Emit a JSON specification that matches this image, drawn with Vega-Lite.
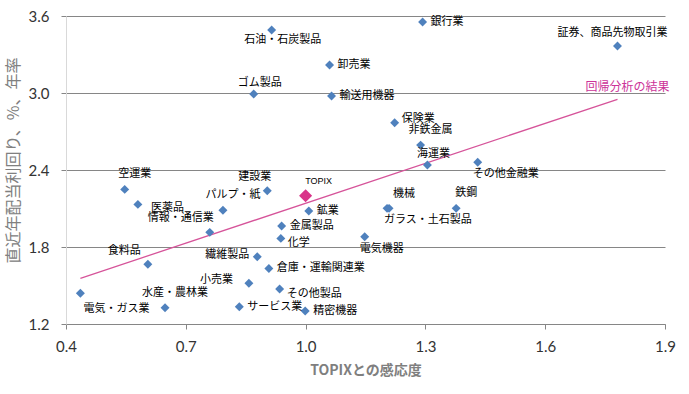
{
  "$schema": "https://vega.github.io/schema/vega-lite/v6.json",
  "width": 599,
  "height": 308,
  "autosize": {"type": "none"},
  "padding": {"left": 66, "top": 16, "right": 24, "bottom": 70},
  "background": "white",
  "config": {"view": {"stroke": null}, "text": {"font": "Noto Sans CJK JP", "fontSize": 11, "color": "#000"}},
  "datasets": {
    "sectors": [
      {"name": "銀行業", "x": 1.293, "y": 3.553},
      {"name": "証券、商品先物取引業", "x": 1.781, "y": 3.366},
      {"name": "石油・石炭製品", "x": 0.915, "y": 3.491},
      {"name": "卸売業", "x": 1.06, "y": 3.218},
      {"name": "ゴム製品", "x": 0.87, "y": 2.992},
      {"name": "輸送用機器", "x": 1.065, "y": 2.976},
      {"name": "保険業", "x": 1.223, "y": 2.768},
      {"name": "非鉄金属", "x": 1.288, "y": 2.594},
      {"name": "海運業", "x": 1.305, "y": 2.439},
      {"name": "その他金融業", "x": 1.431, "y": 2.46},
      {"name": "機械", "x": 1.204, "y": 2.101},
      {"name": "ガラス・土石製品", "x": 1.209, "y": 2.101},
      {"name": "鉄鋼", "x": 1.377, "y": 2.101},
      {"name": "電気機器", "x": 1.148, "y": 1.88},
      {"name": "鉱業", "x": 1.008, "y": 2.08},
      {"name": "金属製品", "x": 0.94, "y": 1.963},
      {"name": "化学", "x": 0.938, "y": 1.867},
      {"name": "建設業", "x": 0.904, "y": 2.238},
      {"name": "パルプ・紙", "x": 0.793, "y": 2.086},
      {"name": "空運業", "x": 0.547, "y": 2.249},
      {"name": "医薬品", "x": 0.58, "y": 2.132},
      {"name": "情報・通信業", "x": 0.76, "y": 1.914},
      {"name": "食料品", "x": 0.605, "y": 1.665},
      {"name": "電気・ガス業", "x": 0.436, "y": 1.439},
      {"name": "水産・農林業", "x": 0.648, "y": 1.327},
      {"name": "繊維製品", "x": 0.879, "y": 1.724},
      {"name": "倉庫・運輸関連業", "x": 0.908, "y": 1.633},
      {"name": "小売業", "x": 0.858, "y": 1.517},
      {"name": "その他製品", "x": 0.935, "y": 1.472},
      {"name": "サービス業", "x": 0.834, "y": 1.334},
      {"name": "精密機器", "x": 0.999, "y": 1.301}
    ],
    "topix": [{"name": "TOPIX", "x": 1.0, "y": 2.2}],
    "reg": [{"x": 0.436, "y": 1.556}, {"x": 1.781, "y": 2.951}],
    "regLabel": [{"x": 1.781, "y": 2.951, "label": "回帰分析の結果"}]
  },
  "layer": [
    {
      "data": {"name": "reg"},
      "mark": {"type": "line", "color": "#D6549A", "strokeWidth": 1.3},
      "encoding": {
        "x": {"field": "x", "type": "quantitative", "scale": {"domain": [0.4, 1.9], "nice": false, "zero": false},
          "axis": {"values": [0.4, 0.7, 1.0, 1.3, 1.6, 1.9], "format": ".1f", "grid": false, "domainColor": "#868686", "tickColor": "#868686", "tickSize": 5, "labelFont": "Lato", "labelFontSize": 15, "labelColor": "#333", "labelPadding": 10, "labelFlush": false,
            "title": "TOPIXとの感応度", "titleFont": "Noto Sans CJK JP", "titleFontSize": 14, "titleFontWeight": "bold", "titleColor": "#7F7F7F", "titleY": 46, "titleBaseline": "middle"}},
        "y": {"field": "y", "type": "quantitative", "scale": {"domain": [1.2, 3.6], "nice": false, "zero": false},
          "axis": {"values": [1.2, 1.8, 2.4, 3.0, 3.6], "format": ".1f", "grid": true, "gridColor": "#868686", "domainColor": "#D9D9D9", "tickColor": "#868686", "tickSize": 5, "labelFont": "Lato", "labelFontSize": 15, "labelColor": "#333", "labelPadding": 12,
            "title": "直近年配当利回り、%、年率", "titleFont": "Noto Sans CJK JP", "titleFontSize": 16, "titleFontWeight": "normal", "titleColor": "#808080", "titleX": -53, "titleY": 144, "titleAngle": -90, "titleAlign": "center", "titleBaseline": "middle"}}
      }
    },
    {
      "data": {"name": "regLabel"},
      "mark": {"type": "text", "color": "#CC3399", "fontSize": 12, "align": "center", "dx": 10, "dy": -12},
      "encoding": {"x": {"field": "x", "type": "quantitative"}, "y": {"field": "y", "type": "quantitative"}, "text": {"field": "label"}}
    },
    {
      "data": {"name": "sectors"},
      "mark": {"type": "point", "shape": "diamond", "filled": true, "size": 80, "color": "#4F81BD", "opacity": 1},
      "encoding": {"x": {"field": "x", "type": "quantitative"}, "y": {"field": "y", "type": "quantitative"}}
    },
    {
      "data": {"name": "topix"},
      "mark": {"type": "point", "shape": "diamond", "filled": true, "size": 170, "color": "#D9348A", "opacity": 1},
      "encoding": {"x": {"field": "x", "type": "quantitative"}, "y": {"field": "y", "type": "quantitative"}}
    },
    {
      "data": {"name": "topix"},
      "mark": {"type": "text", "fontSize": 9, "font": "Liberation Sans", "align": "center", "dx": 13, "dy": -15},
      "encoding": {"x": {"field": "x", "type": "quantitative"}, "y": {"field": "y", "type": "quantitative"}, "text": {"field": "name"}}
    },
    {
      "data": {"name": "sectors"},
      "transform": [{"filter": {"field": "name", "oneOf": ["銀行業", "卸売業", "輸送用機器", "鉱業", "金属製品", "倉庫・運輸関連業", "サービス業", "精密機器"]}}],
      "mark": {"type": "text", "align": "left", "baseline": "middle", "dx": 8, "dy": 0},
      "encoding": {"x": {"field": "x", "type": "quantitative"}, "y": {"field": "y", "type": "quantitative"}, "text": {"field": "name"}}
    },
    {
      "data": {"name": "sectors"},
      "transform": [{"filter": {"field": "name", "oneOf": ["保険業"]}}],
      "mark": {"type": "text", "align": "left", "baseline": "middle", "dx": 7, "dy": -4},
      "encoding": {"x": {"field": "x", "type": "quantitative"}, "y": {"field": "y", "type": "quantitative"}, "text": {"field": "name"}}
    },
    {
      "data": {"name": "sectors"},
      "transform": [{"filter": {"field": "name", "oneOf": ["その他製品", "化学"]}}],
      "mark": {"type": "text", "align": "left", "baseline": "middle", "dx": 7, "dy": 5},
      "encoding": {"x": {"field": "x", "type": "quantitative"}, "y": {"field": "y", "type": "quantitative"}, "text": {"field": "name"}}
    },
    {
      "data": {"name": "sectors"},
      "transform": [{"filter": {"field": "name", "oneOf": ["医薬品"]}}],
      "mark": {"type": "text", "align": "left", "baseline": "middle", "dx": 13, "dy": 4},
      "encoding": {"x": {"field": "x", "type": "quantitative"}, "y": {"field": "y", "type": "quantitative"}, "text": {"field": "name"}}
    },
    {
      "data": {"name": "sectors"},
      "transform": [{"filter": {"field": "name", "oneOf": ["非鉄金属", "鉄鋼", "パルプ・紙", "水産・農林業", "空運業"]}}],
      "mark": {"type": "text", "align": "center", "baseline": "middle", "dx": 10, "dy": -15},
      "encoding": {"x": {"field": "x", "type": "quantitative"}, "y": {"field": "y", "type": "quantitative"}, "text": {"field": "name"}}
    },
    {
      "data": {"name": "sectors"},
      "transform": [{"filter": {"field": "name", "oneOf": ["機械"]}}],
      "mark": {"type": "text", "align": "center", "baseline": "middle", "dx": 17, "dy": -14},
      "encoding": {"x": {"field": "x", "type": "quantitative"}, "y": {"field": "y", "type": "quantitative"}, "text": {"field": "name"}}
    },
    {
      "data": {"name": "sectors"},
      "transform": [{"filter": {"field": "name", "oneOf": ["ゴム製品", "海運業"]}}],
      "mark": {"type": "text", "align": "center", "baseline": "middle", "dx": 6, "dy": -11},
      "encoding": {"x": {"field": "x", "type": "quantitative"}, "y": {"field": "y", "type": "quantitative"}, "text": {"field": "name"}}
    },
    {
      "data": {"name": "sectors"},
      "transform": [{"filter": {"field": "name", "oneOf": ["証券、商品先物取引業"]}}],
      "mark": {"type": "text", "align": "center", "baseline": "middle", "dx": -5, "dy": -13},
      "encoding": {"x": {"field": "x", "type": "quantitative"}, "y": {"field": "y", "type": "quantitative"}, "text": {"field": "name"}}
    },
    {
      "data": {"name": "sectors"},
      "transform": [{"filter": {"field": "name", "oneOf": ["石油・石炭製品"]}}],
      "mark": {"type": "text", "align": "center", "baseline": "middle", "dx": 11, "dy": 10},
      "encoding": {"x": {"field": "x", "type": "quantitative"}, "y": {"field": "y", "type": "quantitative"}, "text": {"field": "name"}}
    },
    {
      "data": {"name": "sectors"},
      "transform": [{"filter": {"field": "name", "oneOf": ["ガラス・土石製品", "電気機器", "その他金融業"]}}],
      "mark": {"type": "text", "align": "left", "baseline": "middle", "dx": -5, "dy": 12},
      "encoding": {"x": {"field": "x", "type": "quantitative"}, "y": {"field": "y", "type": "quantitative"}, "text": {"field": "name"}}
    },
    {
      "data": {"name": "sectors"},
      "transform": [{"filter": {"field": "name", "oneOf": ["電気・ガス業"]}}],
      "mark": {"type": "text", "align": "left", "baseline": "middle", "dx": 3, "dy": 16},
      "encoding": {"x": {"field": "x", "type": "quantitative"}, "y": {"field": "y", "type": "quantitative"}, "text": {"field": "name"}}
    },
    {
      "data": {"name": "sectors"},
      "transform": [{"filter": {"field": "name", "oneOf": ["建設業", "情報・通信業"]}}],
      "mark": {"type": "text", "align": "right", "baseline": "middle", "dx": 4, "dy": -14},
      "encoding": {"x": {"field": "x", "type": "quantitative"}, "y": {"field": "y", "type": "quantitative"}, "text": {"field": "name"}}
    },
    {
      "data": {"name": "sectors"},
      "transform": [{"filter": {"field": "name", "oneOf": ["食料品"]}}],
      "mark": {"type": "text", "align": "right", "baseline": "middle", "dx": -7, "dy": -13},
      "encoding": {"x": {"field": "x", "type": "quantitative"}, "y": {"field": "y", "type": "quantitative"}, "text": {"field": "name"}}
    },
    {
      "data": {"name": "sectors"},
      "transform": [{"filter": {"field": "name", "oneOf": ["繊維製品"]}}],
      "mark": {"type": "text", "align": "right", "baseline": "middle", "dx": -8, "dy": -2},
      "encoding": {"x": {"field": "x", "type": "quantitative"}, "y": {"field": "y", "type": "quantitative"}, "text": {"field": "name"}}
    },
    {
      "data": {"name": "sectors"},
      "transform": [{"filter": {"field": "name", "oneOf": ["小売業"]}}],
      "mark": {"type": "text", "align": "right", "baseline": "middle", "dx": -16, "dy": -3},
      "encoding": {"x": {"field": "x", "type": "quantitative"}, "y": {"field": "y", "type": "quantitative"}, "text": {"field": "name"}}
    }
  ]
}
